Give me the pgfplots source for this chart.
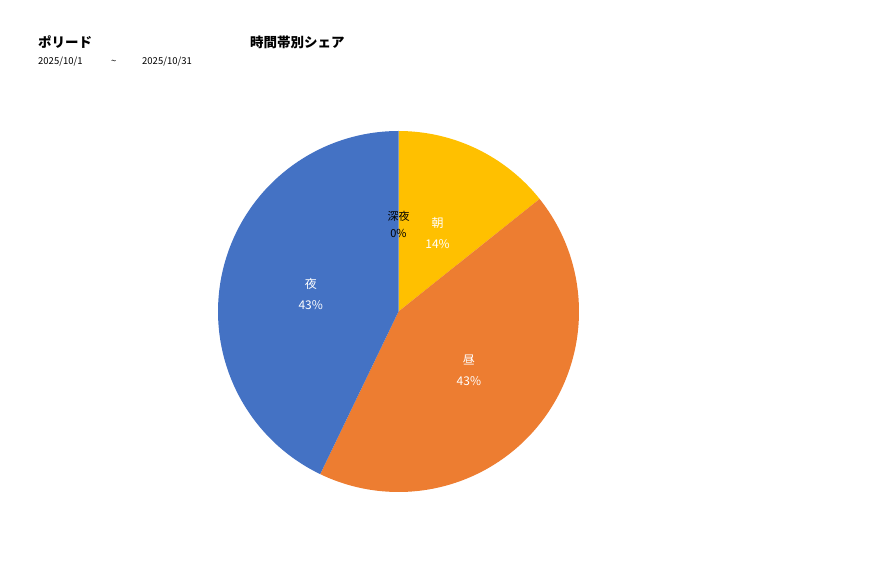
\documentclass[border=0pt]{standalone}
\usepackage{fontspec}
\setmainfont{Noto Sans CJK JP}
\usepackage{pgfplots}
\usepackage{pgfplotstable}
\pgfplotsset{compat=1.18}

\definecolor{asa}{HTML}{FFC000}
\definecolor{hiru}{HTML}{ED7D31}
\definecolor{yoru}{HTML}{4472C4}

% counts per time slot (朝, 昼, 夜, 深夜)
\pgfplotstableread{
slot value
asa 1
hiru 3
yoru 3
shinya 0
}\sharetable

\begin{document}
\begin{tikzpicture}
\pgfplotstablegetelem{0}{value}\of\sharetable\edef\vA{\pgfplotsretval}
\pgfplotstablegetelem{1}{value}\of\sharetable\edef\vB{\pgfplotsretval}
\pgfplotstablegetelem{2}{value}\of\sharetable\edef\vC{\pgfplotsretval}
\pgfplotstablegetelem{3}{value}\of\sharetable\edef\vD{\pgfplotsretval}
\pgfmathsetmacro\tot{\vA+\vB+\vC+\vD}
% slice end angles, clockwise from the top
\pgfmathsetmacro\aA{90-360*\vA/\tot}
\pgfmathsetmacro\aB{\aA-360*\vB/\tot}
\pgfmathsetmacro\aC{\aB-360*\vC/\tot}
% label positions at half radius
\def\cx{398.5}\def\cy{266.5}\def\rr{180.5}
\pgfmathsetmacro\xA{\cx+90*cos((90+\aA)/2)}\pgfmathsetmacro\yA{\cy-3+90*sin((90+\aA)/2)}
\pgfmathsetmacro\xB{\cx+90*cos((\aA+\aB)/2)}\pgfmathsetmacro\yB{\cy-3+90*sin((\aA+\aB)/2)}
\pgfmathsetmacro\xC{\cx+90*cos((\aB+\aC)/2)}\pgfmathsetmacro\yC{\cy-3+90*sin((\aB+\aC)/2)}
\pgfmathtruncatemacro\pA{round(100*\vA/\tot)}
\pgfmathtruncatemacro\pB{round(100*\vB/\tot)}
\pgfmathtruncatemacro\pC{round(100*\vC/\tot)}
\pgfmathtruncatemacro\pD{round(100*\vD/\tot)}
\begin{axis}[
  width=877bp, height=578bp,
  scale only axis,
  xmin=0, xmax=877, ymin=0, ymax=578,
  hide axis,
  clip=false,
]
% keep the whole canvas in the bounding box
\path (rel axis cs:0,0) rectangle (rel axis cs:1,1);

\addplot[draw=none, fill=asa, domain=\aA:90, samples=80, variable=\t]
  ({\cx+\rr*cos(\t)},{\cy+\rr*sin(\t)}) -- (axis cs:\cx,\cy) -- cycle;
\addplot[draw=none, fill=hiru, domain=\aB:\aA, samples=120, variable=\t]
  ({\cx+\rr*cos(\t)},{\cy+\rr*sin(\t)}) -- (axis cs:\cx,\cy) -- cycle;
\addplot[draw=none, fill=yoru, domain=\aC:\aB, samples=120, variable=\t]
  ({\cx+\rr*cos(\t)},{\cy+\rr*sin(\t)}) -- (axis cs:\cx,\cy) -- cycle;

% slice labels
\node[white, align=center, font=\fontsize{12bp}{21bp}\selectfont] at (axis cs:\xA,\yA) {朝\\\pA\%};
\node[white, align=center, font=\fontsize{12bp}{21bp}\selectfont] at (axis cs:\xB,\yB) {昼\\\pB\%};
\node[white, align=center, font=\fontsize{12bp}{21bp}\selectfont] at (axis cs:\xC,\yC) {夜\\\pC\%};
\node[black, align=center, font=\fontsize{11bp}{17bp}\selectfont] at (axis cs:\cx,354) {深夜\\\pD\%};

% titles
\node[anchor=west, inner sep=0, font=\bfseries\fontsize{13.5bp}{16bp}\selectfont] at (axis cs:38,536) {ポリード};
\node[anchor=west, inner sep=0, font=\bfseries\fontsize{13.5bp}{16bp}\selectfont] at (axis cs:250,536) {時間帯別シェア};
\node[anchor=west, inner sep=0, font=\fontsize{9.5bp}{11bp}\selectfont] at (axis cs:38,516) {2025/10/1};
\node[anchor=west, inner sep=0, font=\fontsize{9.5bp}{11bp}\selectfont] at (axis cs:111,516) {\textasciitilde};
\node[anchor=west, inner sep=0, font=\fontsize{9.5bp}{11bp}\selectfont] at (axis cs:142,516) {2025/10/31};
\end{axis}
\end{tikzpicture}
\end{document}
